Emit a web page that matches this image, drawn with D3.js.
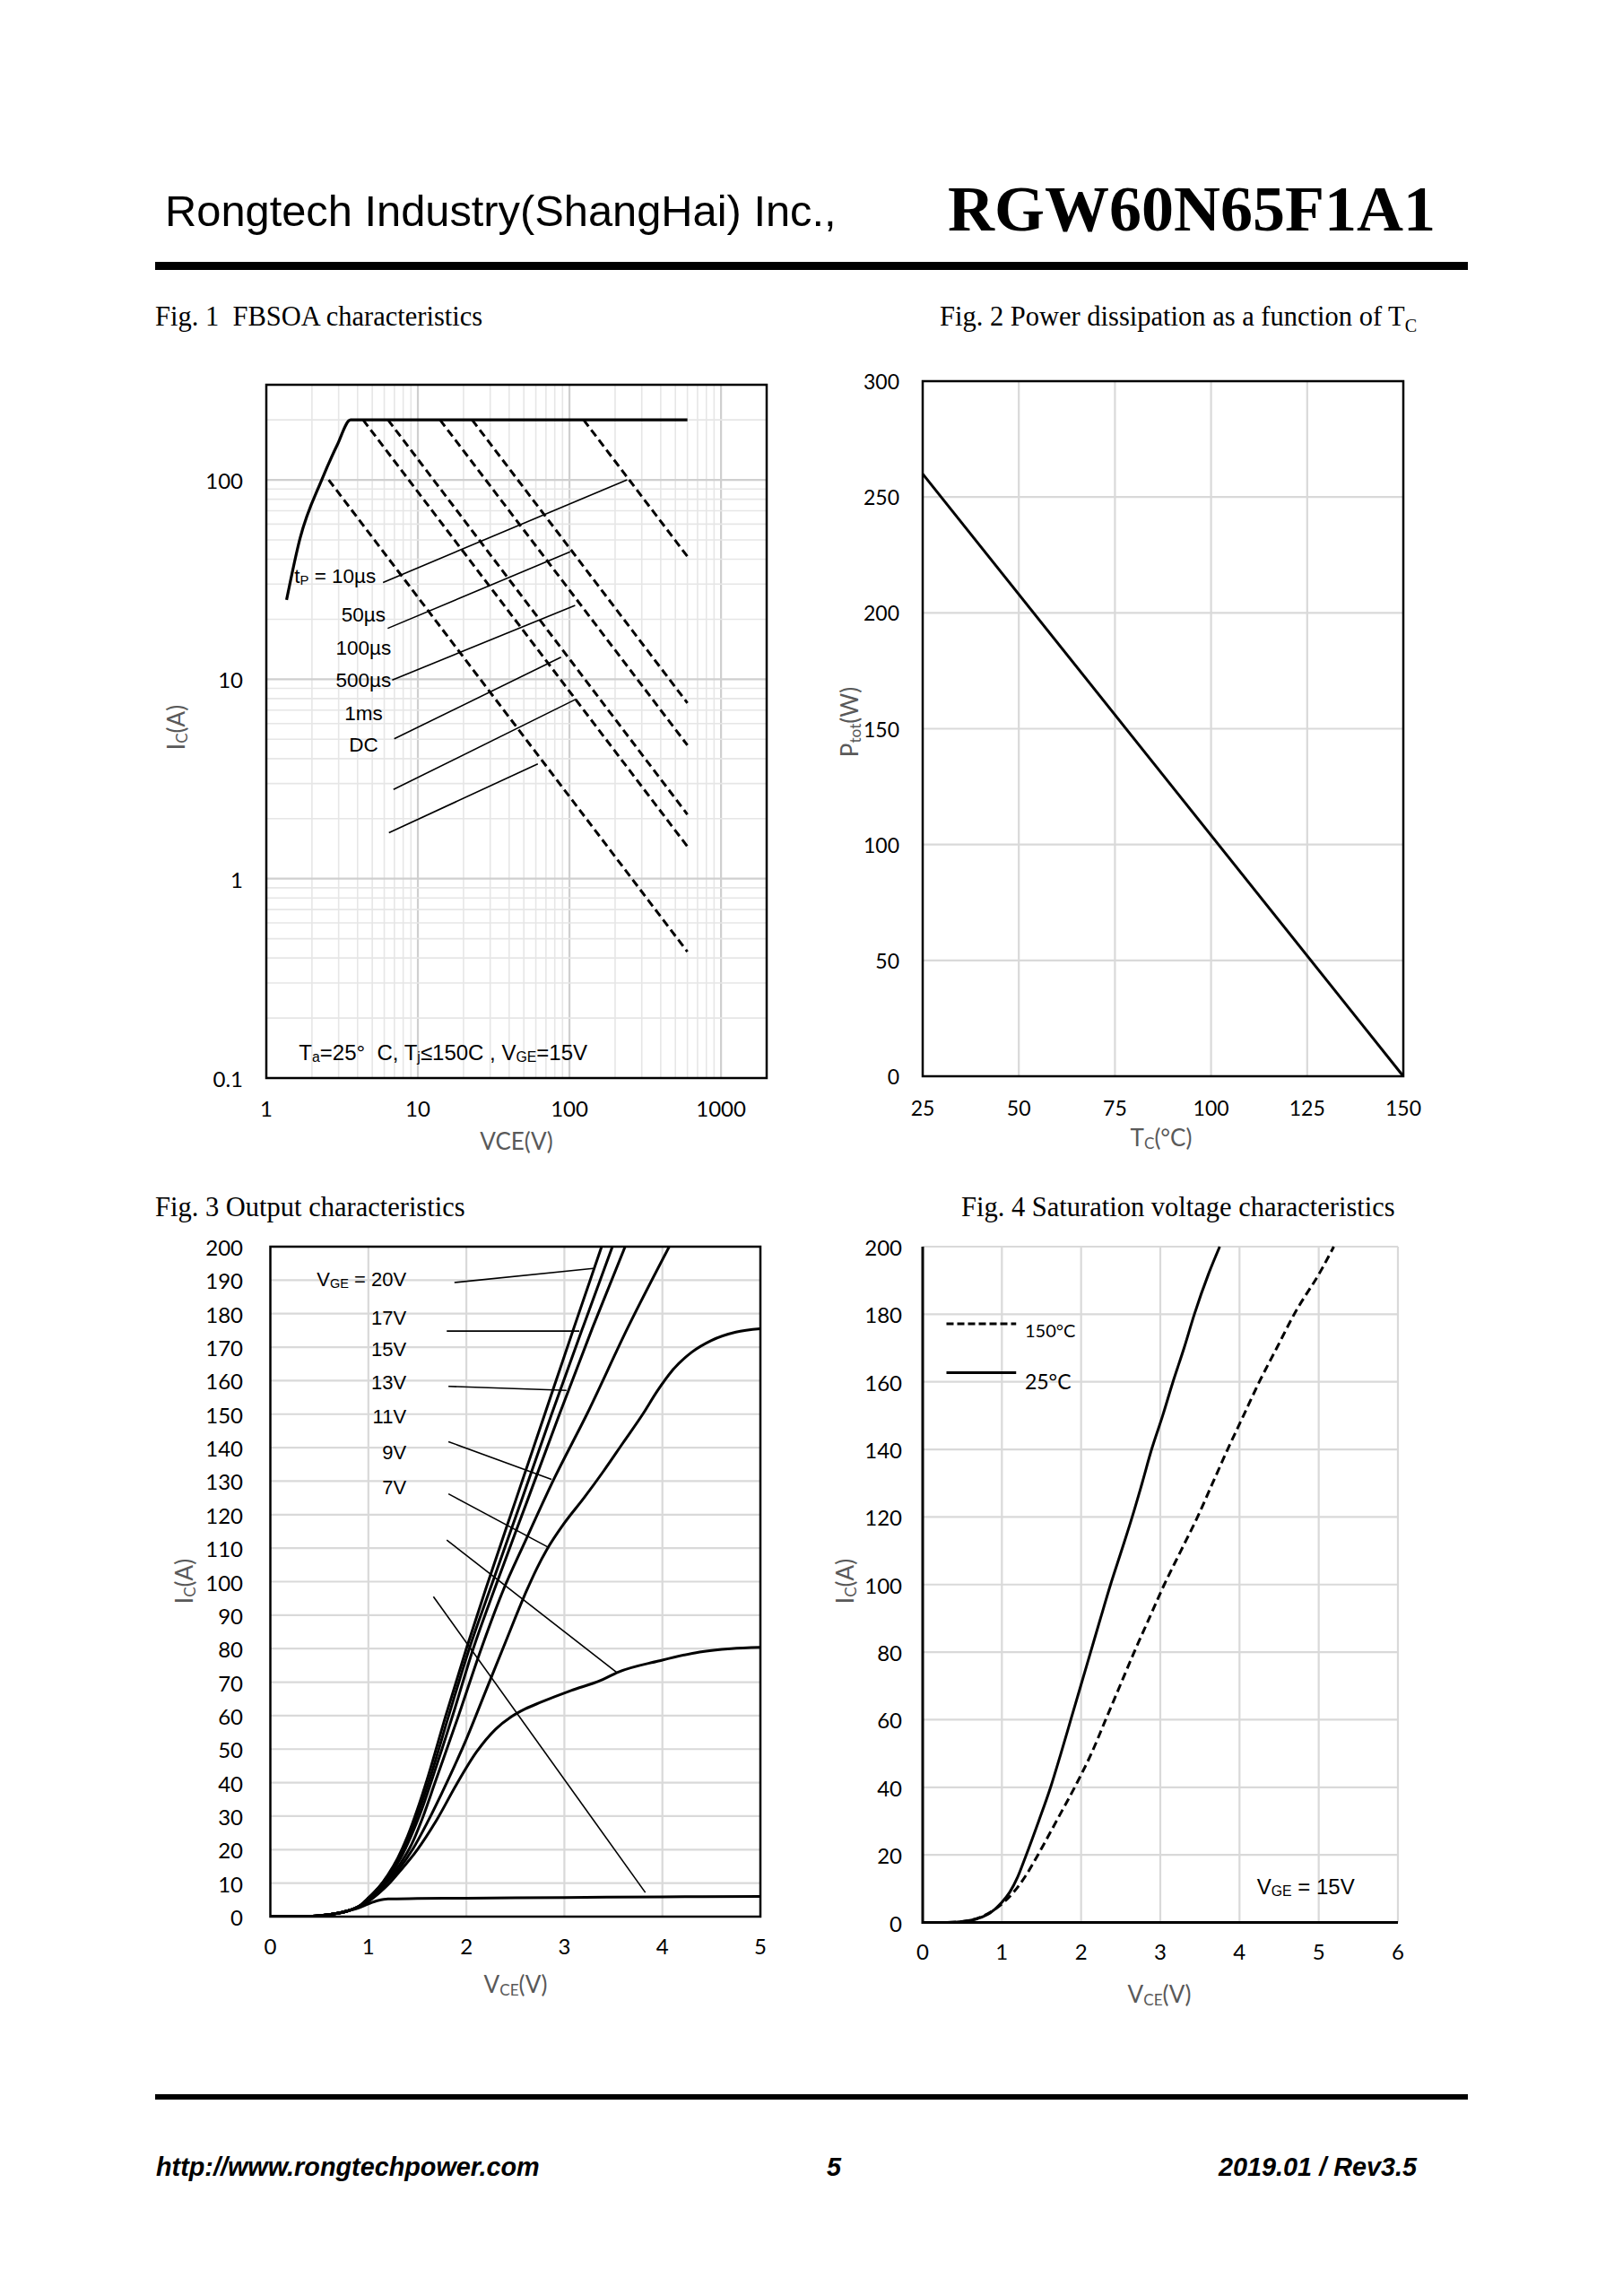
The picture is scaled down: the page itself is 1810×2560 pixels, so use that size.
<!DOCTYPE html>
<html>
<head>
<meta charset="utf-8">
<script src="https://cdnjs.cloudflare.com/ajax/libs/d3/7.8.5/d3.min.js"></script>
<style>
  body { margin: 0; background: #fff; }
  svg { display: block; }
  text { white-space: pre; }
</style>
</head>
<body>
<script>
// ---- Fig 1 : FBSOA (log / log) ----
var soaTicksX = [1, 10, 100, 1000];
var soaTicksY = [0.1, 1, 10, 100];
var soaLimitV = [1.36, 1.67, 2.32, 2.93, 3.6, 600];
var soaLimitI = [25, 51, 100, 149, 200, 200];
var soaPulses = ['10µs', '50µs', '100µs', '500µs', '1ms', 'DC'];
var soaStartV = [124, 22.8, 14.0, 6.35, 4.35, 2.58];
var soaStartI = [200, 200, 200, 200, 200, 100];
var soaEndV = [600, 600, 600, 600, 600, 600];
var soaEndI = [41.3, 7.6, 4.67, 2.1, 1.45, 0.43];
// leader lines from the labels to the curves
var soaLeadFromV = [5.89, 6.32, 6.77, 6.98, 6.9, 6.44];
var soaLeadFromI = [30.6, 18.0, 9.9, 5.03, 2.8, 1.7];
var soaLeadToV = [240, 101, 109, 88, 111, 61.8];
var soaLeadToI = [100, 43.6, 23.5, 12.9, 7.96, 3.76];
var soaLabelV = [1.53, 4.38, 4.38, 4.38, 4.38, 4.38];
var soaLabelI = [33.1, 21.1, 14.5, 9.9, 6.77, 4.71];

// ---- Fig 2 : power dissipation ----
var tcTicks = [25, 50, 75, 100, 125, 150];
var ptotTicks = [0, 50, 100, 150, 200, 250, 300];
var tcC = [25, 150];
var ptotW = [260, 0];

// ---- Fig 3 : output characteristics ----
var outTicksX = [0, 1, 2, 3, 4, 5];
var outTicksY = d3.range(0, 201, 10);
var vgeNames = ['20V', '17V', '15V', '13V', '11V', '9V', '7V'];
var vce20 = [0, 0.4, 0.6, 0.8, 0.9, 1.0, 1.1, 1.2, 1.3, 1.4, 1.5, 1.6, 1.79, 2.0, 2.2, 2.5, 2.8, 3.1, 3.38];
var ic20 = [0, 0.1, 0.6, 1.8, 3, 5.5, 8.5, 12.5, 17.5, 24, 32, 41, 60, 80, 98, 124, 150, 176, 200];
var vce17 = [0, 0.4, 0.6, 0.8, 0.9, 1.0, 1.1, 1.21, 1.31, 1.415, 1.52, 1.625, 1.82, 2.03, 2.245, 2.56, 2.87, 3.19, 3.49];
var ic17 = [0, 0.1, 0.6, 1.8, 3, 5.5, 8.5, 12.5, 17.5, 24, 32, 41, 60, 80, 98, 124, 150, 176, 200];
var vce15 = [0, 0.4, 0.6, 0.8, 0.9, 1.0, 1.1, 1.22, 1.33, 1.435, 1.545, 1.65, 1.86, 2.07, 2.29, 2.62, 2.95, 3.29, 3.62];
var ic15 = [0, 0.1, 0.6, 1.8, 3, 5.5, 8.5, 12.5, 17.5, 24, 32, 41, 60, 80, 98, 124, 150, 176, 200];
var vce13 = [0, 0.4, 0.6, 0.8, 0.9, 1.0, 1.1, 1.21, 1.33, 1.44, 1.56, 1.68, 1.92, 2.14, 2.37, 2.6, 2.9, 3.23, 3.65, 4.07];
var ic13 = [0, 0.1, 0.6, 1.8, 3, 5.3, 8, 11.5, 16, 21.5, 30, 40, 60, 79, 97, 112, 131, 150, 176, 200];
var vce11 = [0, 0.4, 0.6, 0.8, 0.9, 1.0, 1.1, 1.2, 1.32, 1.45, 1.6, 1.8, 2.0, 2.2, 2.4, 2.61, 2.72, 2.82, 3.0, 3.2, 3.4, 3.6, 3.8, 3.95, 4.1, 4.3, 4.5, 4.75, 5.0];
var ic11 = [0, 0.1, 0.6, 1.8, 3, 5, 7.5, 10.5, 14.5, 20, 28, 40, 53, 67.5, 82, 97, 104, 109.5, 117.5, 125, 133, 141.5, 150, 157, 163, 168.5, 172, 174.5, 175.5];
var vce9 = [0, 0.4, 0.6, 0.8, 0.9, 1.0, 1.1, 1.2, 1.32, 1.5, 1.7, 1.9, 2.1, 2.3, 2.45, 2.6, 2.76, 3.07, 3.37, 3.55, 3.96, 4.38, 4.7, 5.0];
var ic9 = [0, 0.1, 0.6, 1.8, 2.8, 4.5, 6.8, 9.5, 13.5, 20, 29, 39.5, 49, 56, 59.5, 62, 64, 67.5, 70.5, 73, 76.3, 79, 80, 80.4];
var vce7 = [0, 0.4, 0.6, 0.8, 0.9, 1.0, 1.1, 1.2, 1.5, 2, 3, 4, 5];
var ic7 = [0, 0.1, 0.6, 1.8, 2.6, 3.8, 4.8, 5.3, 5.4, 5.5, 5.7, 5.9, 6.0];
var outLeadFromV = [1.878, 1.80, 1.817, 1.817, 1.817, 1.80, 1.664];
var outLeadFromI = [189.3, 174.8, 158.3, 141.8, 126.2, 112.4, 95.5];
var outLeadToV = [3.296, 3.153, 3.022, 2.869, 2.839, 3.53, 3.826];
var outLeadToI = [193.5, 174.8, 157.1, 130.5, 110.2, 73, 7.2];
var outLabelV = 1.387;
var outLabelI = [190.4, 178.9, 169.5, 159.6, 149.5, 138.8, 128.3];

// ---- Fig 4 : saturation voltage ----
var satTicksX = [0, 1, 2, 3, 4, 5, 6];
var satTicksY = d3.range(0, 201, 20);
var sat25V = [0, 0.3, 0.5, 0.7, 0.85, 1.0, 1.1, 1.2, 1.3, 1.465, 1.615, 1.745, 1.87, 1.995, 2.12, 2.245, 2.372, 2.51, 2.645, 2.77, 2.89, 3.03, 3.16, 3.3, 3.43, 3.61, 3.75];
var sat25I = [0, 0, 0.3, 1.2, 2.8, 6, 9, 13.5, 19.5, 30, 40, 50, 60, 70, 80, 90, 100, 110, 120, 130, 140, 150, 160, 170, 180, 192, 200];
var sat150V = [0, 0.3, 0.5, 0.7, 0.85, 1.0, 1.15, 1.3, 1.45, 1.7, 1.93, 2.13, 2.31, 2.49, 2.67, 2.86, 3.05, 3.26, 3.47, 3.66, 3.85, 4.05, 4.25, 4.47, 4.69, 5.03, 5.19];
var sat150I = [0, 0, 0.3, 1.3, 3, 5.5, 9, 13.8, 19.8, 30.5, 40.5, 50, 60, 70, 80, 90, 100, 110, 120, 130, 140, 150, 160, 170, 180, 193, 200];

var W = 1810, H = 2560;
var ARIAL = "'Liberation Sans', Arial, sans-serif";
var TIMES = "'Liberation Serif', 'Times New Roman', serif";
var CALIBRI = "Lato, 'Open Sans', sans-serif";
var GRID = '#d9d9d9';
var TITLE_GREY = '#595959';

var svg = d3.select('body').append('svg').attr('width', W).attr('height', H);
svg.append('rect').attr('width', W).attr('height', H).attr('fill', '#fff');

// writes text made of plain and subscript pieces
function rich(sel, parts, size) {
  var shifted = false;
  parts.forEach(function(p) {
    var t = sel.append('tspan').text(p[0]);
    if (p[1] === 'sub') {
      t.attr('font-size', size * 0.66);
      if (!shifted) t.attr('dy', size * 0.22);
      shifted = true;
    } else {
      if (shifted) t.attr('dy', -size * 0.22);
      shifted = false;
    }
  });
  return sel;
}

function label(x, y, parts, opts) {
  var t = svg.append('text')
    .attr('x', x).attr('y', y)
    .attr('font-family', opts.font || ARIAL)
    .attr('font-size', opts.size)
    .attr('fill', opts.color || '#000')
    .attr('text-anchor', opts.anchor || 'start');
  if (opts.weight) t.attr('font-weight', opts.weight);
  if (opts.style) t.attr('font-style', opts.style);
  if (opts.rotate) t.attr('transform', 'rotate(-90,' + x + ',' + y + ')');
  if (opts.mid) t.attr('dominant-baseline', 'central');
  return rich(t, parts, opts.size);
}

function zipPts(xs, ys) {
  return xs.map(function(v, i) { return [v, ys[i]]; });
}

// ---------- page header / footer ----------
label(184, 252, [['Rongtech Industry(ShangHai) Inc.,']], { size: 48.8 });
label(1601, 257, [['RGW60N65F1A1']], { size: 72, font: TIMES, weight: 'bold', anchor: 'end' });
svg.append('rect').attr('x', 173).attr('y', 292).attr('width', 1464).attr('height', 9).attr('fill', '#000');

svg.append('rect').attr('x', 173).attr('y', 2335).attr('width', 1464).attr('height', 6).attr('fill', '#000');
label(174, 2426, [['http://www.rongtechpower.com']], { size: 28.8, weight: 'bold', style: 'italic' });
label(930, 2426, [['5']], { size: 28.8, weight: 'bold', style: 'italic', anchor: 'middle' });
label(1580, 2426, [['2019.01 / Rev3.5']], { size: 28.8, weight: 'bold', style: 'italic', anchor: 'end' });

label(173, 363, [['Fig. 1  FBSOA characteristics']], { size: 30.5, font: TIMES });
label(1048, 363, [['Fig. 2 Power dissipation as a function of T'], ['C', 'sub']], { size: 30.5, font: TIMES });
label(173, 1356, [['Fig. 3 Output characteristics']], { size: 30.5, font: TIMES });
label(1072, 1356, [['Fig. 4 Saturation voltage characteristics']], { size: 30.5, font: TIMES });

// ---------- Fig 1 ----------
(function() {
  var x = d3.scaleLog().domain([1, 2000]).range([297, 855]);
  var y = d3.scaleLog().domain([0.1, 300]).range([1202, 429]);
  var g = svg.append('g');

  function isMajor(v) { return Math.abs(Math.log10(v) - Math.round(Math.log10(v))) < 1e-9; }

  g.selectAll('.gx').data(x.ticks().filter(function(v) { return v > 1 && v < 2000; }))
    .enter().append('line')
    .attr('x1', function(d) { return x(d); }).attr('x2', function(d) { return x(d); })
    .attr('y1', y(300)).attr('y2', y(0.1))
    .attr('stroke', function(d) { return isMajor(d) ? '#cfcfcf' : '#e6e6e6'; })
    .attr('stroke-width', function(d) { return isMajor(d) ? 2.2 : 1.6; });
  g.selectAll('.gy').data(y.ticks().filter(function(v) { return v > 0.1 && v < 300; }))
    .enter().append('line')
    .attr('y1', function(d) { return y(d); }).attr('y2', function(d) { return y(d); })
    .attr('x1', x(1)).attr('x2', x(2000))
    .attr('stroke', function(d) { return isMajor(d) ? '#cfcfcf' : '#e6e6e6'; })
    .attr('stroke-width', function(d) { return isMajor(d) ? 2.2 : 1.6; });

  var line = d3.line().x(function(d) { return x(d[0]); }).y(function(d) { return y(d[1]); });

  // leader lines
  soaPulses.forEach(function(p, i) {
    g.append('path').attr('d', line([[soaLeadFromV[i], soaLeadFromI[i]], [soaLeadToV[i], soaLeadToI[i]]]))
      .attr('stroke', '#000').attr('stroke-width', 1.6).attr('fill', 'none');
  });
  // pulse limits
  soaPulses.forEach(function(p, i) {
    g.append('path').attr('d', line([[soaStartV[i], soaStartI[i]], [soaEndV[i], soaEndI[i]]]))
      .attr('stroke', '#000').attr('stroke-width', 3).attr('stroke-dasharray', '9,5').attr('fill', 'none');
  });
  g.append('path').attr('d', line.curve(d3.curveMonotoneX)(zipPts(soaLimitV, soaLimitI)))
    .attr('stroke', '#000').attr('stroke-width', 3.2).attr('fill', 'none');

  g.append('rect').attr('x', x(1)).attr('y', y(300))
    .attr('width', x(2000) - x(1)).attr('height', y(0.1) - y(300))
    .attr('fill', 'none').attr('stroke', '#000').attr('stroke-width', 2.5);

  soaTicksY.forEach(function(v) {
    label(271, y(v), [[String(v)]], { size: 24, font: CALIBRI, anchor: 'end', mid: true });
  });
  soaTicksX.forEach(function(v) {
    label(x(v), 1235, [[String(v)]], { size: 24, font: CALIBRI, anchor: 'middle', mid: true });
  });

  label(x(soaLabelV[0]), y(soaLabelI[0]), [['t'], ['P', 'sub'], [' = 10µs']], { size: 22.5, mid: true });
  soaPulses.slice(1).forEach(function(p, i) {
    label(x(soaLabelV[i + 1]), y(soaLabelI[i + 1]), [[p]], { size: 22.5, anchor: 'middle', mid: true });
  });
  label(x(1.64), y(0.135), [['T'], ['a', 'sub'], ['=25°  C, T'], ['j', 'sub'], ['≤150C , V'], ['GE', 'sub'], ['=15V']], { size: 24, mid: true });

  label(576, 1272, [['VCE(V)']], { size: 26, font: CALIBRI, color: TITLE_GREY, anchor: 'middle', mid: true });
  label(196, 811, [['I'], ['C', 'sub'], ['(A)']], { size: 26, font: CALIBRI, color: TITLE_GREY, anchor: 'middle', mid: true, rotate: true });
})();

// ---------- Fig 2 ----------
(function() {
  var x = d3.scaleLinear().domain([25, 150]).range([1029, 1565]);
  var y = d3.scaleLinear().domain([0, 300]).range([1200, 425]);
  var g = svg.append('g');

  g.selectAll('.gx').data(tcTicks.slice(1, -1)).enter().append('line')
    .attr('x1', function(d) { return x(d); }).attr('x2', function(d) { return x(d); })
    .attr('y1', y(300)).attr('y2', y(0)).attr('stroke', GRID).attr('stroke-width', 2.2);
  g.selectAll('.gy').data(ptotTicks.slice(1, -1)).enter().append('line')
    .attr('y1', function(d) { return y(d); }).attr('y2', function(d) { return y(d); })
    .attr('x1', x(25)).attr('x2', x(150)).attr('stroke', GRID).attr('stroke-width', 2.2);

  var line = d3.line().x(function(d) { return x(d[0]); }).y(function(d) { return y(d[1]); });
  g.append('path').attr('d', line(zipPts(tcC, ptotW)))
    .attr('stroke', '#000').attr('stroke-width', 3).attr('fill', 'none');

  g.append('rect').attr('x', x(25)).attr('y', y(300))
    .attr('width', x(150) - x(25)).attr('height', y(0) - y(300))
    .attr('fill', 'none').attr('stroke', '#000').attr('stroke-width', 2.5);

  ptotTicks.forEach(function(v) {
    label(1003, y(v), [[String(v)]], { size: 23, font: CALIBRI, anchor: 'end', mid: true });
  });
  tcTicks.forEach(function(v) {
    label(x(v), 1235, [[String(v)]], { size: 23, font: CALIBRI, anchor: 'middle', mid: true });
  });
  label(1295, 1268, [['T'], ['C', 'sub'], ['(°C)']], { size: 26, font: CALIBRI, color: TITLE_GREY, anchor: 'middle', mid: true });
  label(947, 805, [['P'], ['tot', 'sub'], ['(W)']], { size: 26, font: CALIBRI, color: TITLE_GREY, anchor: 'middle', mid: true, rotate: true });
})();

// ---------- Fig 3 ----------
(function() {
  var x = d3.scaleLinear().domain([0, 5]).range([301.5, 848]);
  var y = d3.scaleLinear().domain([0, 200]).range([2137, 1390]);
  var g = svg.append('g');

  g.selectAll('.gx').data(outTicksX.slice(1, -1)).enter().append('line')
    .attr('x1', function(d) { return x(d); }).attr('x2', function(d) { return x(d); })
    .attr('y1', y(200)).attr('y2', y(0)).attr('stroke', GRID).attr('stroke-width', 2.2);
  g.selectAll('.gy').data(outTicksY.slice(1, -1)).enter().append('line')
    .attr('y1', function(d) { return y(d); }).attr('y2', function(d) { return y(d); })
    .attr('x1', x(0)).attr('x2', x(5)).attr('stroke', GRID).attr('stroke-width', 2.2);

  var line = d3.line().curve(d3.curveMonotoneX)
    .x(function(d) { return x(d[0]); }).y(function(d) { return y(d[1]); });
  var straight = d3.line().x(function(d) { return x(d[0]); }).y(function(d) { return y(d[1]); });

  outLeadFromV.forEach(function(v, i) {
    g.append('path').attr('d', straight([[v, outLeadFromI[i]], [outLeadToV[i], outLeadToI[i]]]))
      .attr('stroke', '#000').attr('stroke-width', 1.6).attr('fill', 'none');
  });

  var series = [[vce20, ic20], [vce17, ic17], [vce15, ic15], [vce13, ic13], [vce11, ic11], [vce9, ic9], [vce7, ic7]];
  var clip = svg.append('clipPath').attr('id', 'clip3');
  clip.append('rect').attr('x', x(0)).attr('y', y(200)).attr('width', x(5) - x(0)).attr('height', y(0) - y(200));
  g.append('g').attr('clip-path', 'url(#clip3)').selectAll('path').data(series).enter().append('path')
    .attr('d', function(s) { return line(zipPts(s[0], s[1])); })
    .attr('stroke', '#000').attr('stroke-width', 3).attr('fill', 'none');

  g.append('rect').attr('x', x(0)).attr('y', y(200))
    .attr('width', x(5) - x(0)).attr('height', y(0) - y(200))
    .attr('fill', 'none').attr('stroke', '#000').attr('stroke-width', 2.5);

  outTicksY.forEach(function(v) {
    label(271, y(v), [[String(v)]], { size: 24, font: CALIBRI, anchor: 'end', mid: true });
  });
  outTicksX.forEach(function(v) {
    label(x(v), 2169, [[String(v)]], { size: 24, font: CALIBRI, anchor: 'middle', mid: true });
  });

  vgeNames.forEach(function(n, i) {
    var parts = i === 0 ? [['V'], ['GE', 'sub'], [' = ' + n]] : [[n]];
    label(x(outLabelV), y(outLabelI[i]), parts, { size: 22, anchor: 'end', mid: true });
  });

  label(575, 2212, [['V'], ['CE', 'sub'], ['(V)']], { size: 26, font: CALIBRI, color: TITLE_GREY, anchor: 'middle', mid: true });
  label(205, 1763, [['I'], ['C', 'sub'], ['(A)']], { size: 26, font: CALIBRI, color: TITLE_GREY, anchor: 'middle', mid: true, rotate: true });
})();

// ---------- Fig 4 ----------
(function() {
  var x = d3.scaleLinear().domain([0, 6]).range([1029, 1559]);
  var y = d3.scaleLinear().domain([0, 200]).range([2143.5, 1390]);
  var g = svg.append('g');

  g.selectAll('.gx').data(satTicksX.slice(1)).enter().append('line')
    .attr('x1', function(d) { return x(d); }).attr('x2', function(d) { return x(d); })
    .attr('y1', y(200)).attr('y2', y(0)).attr('stroke', GRID).attr('stroke-width', 2.2);
  g.selectAll('.gy').data(satTicksY.slice(1)).enter().append('line')
    .attr('y1', function(d) { return y(d); }).attr('y2', function(d) { return y(d); })
    .attr('x1', x(0)).attr('x2', x(6)).attr('stroke', GRID).attr('stroke-width', 2.2);

  var line = d3.line().curve(d3.curveMonotoneX)
    .x(function(d) { return x(d[0]); }).y(function(d) { return y(d[1]); });

  g.append('path').attr('d', line(zipPts(sat150V, sat150I)))
    .attr('stroke', '#000').attr('stroke-width', 3).attr('stroke-dasharray', '9,5').attr('fill', 'none');
  g.append('path').attr('d', line(zipPts(sat25V, sat25I)))
    .attr('stroke', '#000').attr('stroke-width', 3).attr('fill', 'none');

  g.append('line').attr('x1', x(0)).attr('x2', x(0)).attr('y1', y(200)).attr('y2', y(0) + 1.5)
    .attr('stroke', '#000').attr('stroke-width', 3);
  g.append('line').attr('x1', x(0)).attr('x2', x(6)).attr('y1', y(0)).attr('y2', y(0))
    .attr('stroke', '#000').attr('stroke-width', 3);

  // legend
  g.append('line').attr('x1', x(0.3)).attr('x2', x(1.18)).attr('y1', y(177.2)).attr('y2', y(177.2))
    .attr('stroke', '#000').attr('stroke-width', 3).attr('stroke-dasharray', '8,4');
  g.append('line').attr('x1', x(0.3)).attr('x2', x(1.18)).attr('y1', y(162.7)).attr('y2', y(162.7))
    .attr('stroke', '#000').attr('stroke-width', 3);
  label(x(1.29), y(175.4), [['150°C']], { size: 20, font: CALIBRI, mid: true });
  label(x(1.29), y(160.2), [['25°C']], { size: 23, font: CALIBRI, mid: true });
  label(x(4.22), y(10.8), [['V'], ['GE', 'sub'], [' = 15V']], { size: 24, mid: true });

  satTicksY.forEach(function(v) {
    label(1006, y(v), [[String(v)]], { size: 24, font: CALIBRI, anchor: 'end', mid: true });
  });
  satTicksX.forEach(function(v) {
    label(x(v), 2175, [[String(v)]], { size: 24, font: CALIBRI, anchor: 'middle', mid: true });
  });
  label(1293, 2223, [['V'], ['CE', 'sub'], ['(V)']], { size: 26, font: CALIBRI, color: TITLE_GREY, anchor: 'middle', mid: true });
  label(942, 1763, [['I'], ['C', 'sub'], ['(A)']], { size: 26, font: CALIBRI, color: TITLE_GREY, anchor: 'middle', mid: true, rotate: true });
})();
</script>
</body>
</html>
